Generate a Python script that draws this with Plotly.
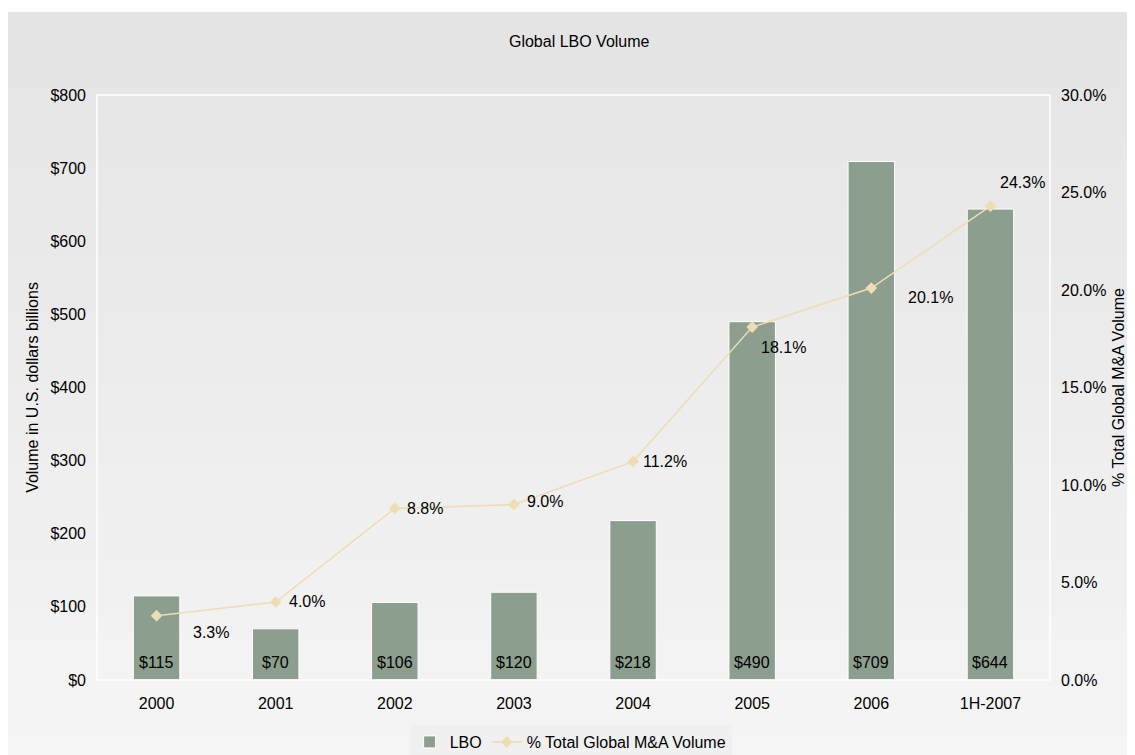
import plotly.graph_objects as go

categories = ["2000", "2001", "2002", "2003", "2004", "2005", "2006", "1H-2007"]
lbo_volume = [115, 70, 106, 120, 218, 490, 709, 644]
pct_global = [3.3, 4.0, 8.8, 9.0, 11.2, 18.1, 20.1, 24.3]
left_ticks = [0, 100, 200, 300, 400, 500, 600, 700, 800]
right_ticks = [0, 5, 10, 15, 20, 25, 30]

# pixel offsets of the percentage labels relative to their markers (styling only)
label_dx = [34, 11, 10, 11, 8, 7, 35, 8]
label_dy = [-17, 1, 0, 3, 0, -20, -9, 24]

FONT = "Liberation Sans, Arial, sans-serif"
BAR = "#8c9e8e"
LINE = "#eedcb2"

W, H = 1127, 747
ML, MR, MT, MB = 89, 85, 87, 75
PW, PH = W - ML - MR, H - MT - MB

fig = go.Figure()

fig.add_trace(go.Bar(
    x=categories, y=lbo_volume, name="LBO",
    marker=dict(color=BAR, line=dict(color="white", width=1)),
    width=0.39,
))

fig.add_trace(go.Scatter(
    x=categories, y=[p / 100 for p in pct_global], name="% Total Global M&A Volume",
    yaxis="y2", mode="lines+markers",
    line=dict(color=LINE, width=1.5),
    marker=dict(symbol="diamond", size=9, color=LINE),
    cliponaxis=False,
))

annotations = []
for i, v in enumerate(lbo_volume):
    annotations.append(dict(x=i, y=0, xref="x", yref="y", text=f"${v}",
                            showarrow=False, xanchor="center", yanchor="bottom",
                            yshift=7, font=dict(size=16, color="black", family=FONT)))
for i, (p, dx, dy) in enumerate(zip(pct_global, label_dx, label_dy)):
    annotations.append(dict(x=i, y=p / 100, xref="x", yref="y2", text=f"{p:.1f}%",
                            showarrow=False, xanchor="left", yanchor="middle",
                            xshift=dx, yshift=dy,
                            font=dict(size=16, color="black", family=FONT)))

# gradient background bands
shapes = []
n = 30
y_top, y_bot = 1.0 + (MT - 4) / PH, -(MB + 5) / PH
x_left, x_right = -ML / PW, 1 + (MR + 5) / PW
h = (y_top - y_bot) / n
for i in range(n):
    t = i / (n - 1)
    c = int(round(0xe4 + (0xf5 - 0xe4) * t))
    y1 = y_top - h * i
    y0 = y_top - h * (i + 1) - 0.004
    shapes.append(dict(type="rect", xref="paper", yref="paper",
                       x0=x_left, x1=x_right, y0=max(y0, y_bot), y1=y1,
                       fillcolor=f"rgb({c},{c},{c})", line=dict(width=0), layer="below"))
shapes.append(dict(type="rect", xref="paper", yref="paper", x0=0, x1=1, y0=0, y1=1,
                   line=dict(color="white", width=1.5), fillcolor="rgba(0,0,0,0)", layer="above"))

fig.update_layout(
    width=W, height=H,
    margin=dict(l=ML, r=MR, t=MT, b=MB, autoexpand=False),
    paper_bgcolor="white", plot_bgcolor="rgba(0,0,0,0)",
    font=dict(family=FONT, size=16, color="black"),
    title=dict(text="Global LBO Volume", x=0.506, xref="paper", xanchor="center",
               y=1 - 33 / H, yanchor="middle", font=dict(size=16, family=FONT)),
    shapes=shapes,
    annotations=annotations,
    showlegend=True,
    legend=dict(orientation="h", x=0.497, xanchor="center", xref="paper",
                yref="container", y=1 - 734 / H, yanchor="middle", bgcolor="#f0f0f0",
                font=dict(size=16, family=FONT), traceorder="normal",
                itemwidth=30),
    xaxis=dict(type="category", range=[-0.5, len(categories) - 0.5],
               showgrid=False, showline=False, ticks="", zeroline=False,
               tickfont=dict(size=16), automargin=False, ticklabelstandoff=12),
    yaxis=dict(range=[0, 800], tickvals=left_ticks,
               ticktext=[f"${v}" for v in left_ticks],
               showgrid=False, zeroline=False, showline=False, ticks="",
               automargin=False, ticklabelstandoff=10,
               title=dict(text="Volume in U.S. dollars billions", font=dict(size=16), standoff=7),
               tickfont=dict(size=16)),
    yaxis2=dict(range=[0, 0.30], tickvals=[v / 100 for v in right_ticks],
                ticktext=[f"{v:.1f}%" for v in right_ticks],
                overlaying="y", side="right", showgrid=False, zeroline=False,
                showline=False, ticks="", automargin=False, ticklabelstandoff=10,
                title=dict(text="% Total Global M&A Volume", font=dict(size=16), standoff=7),
                tickfont=dict(size=16)),
)

fig.write_html("out.html")
